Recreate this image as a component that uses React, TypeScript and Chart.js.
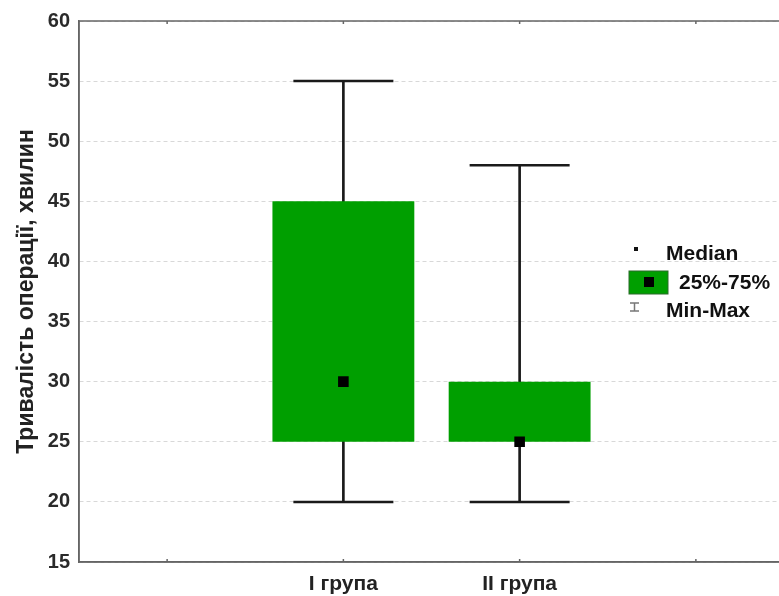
import React, { useEffect, useRef } from "react";
import { Chart, registerables } from "chart.js";

Chart.register(...registerables);

const categories = ["", "I група", "II група", ""];
const minValues = [null, 20, 20, null];
const maxValues = [null, 55, 48, null];
const q1Values = [null, 25, 25, null];
const q3Values = [null, 45, 30, null];
const medianValues = [null, 30, 25, null];
const yTitle = "Тривалість операції, хвилин";
const legendLabels = ["Median", "25%-75%", "Min-Max"];

const GREEN = "#009f00";
const FONT = "'Liberation Sans', Arial, sans-serif";

const framePlugin = {
  id: "frame",
  afterDraw(chart: any) {
    const { ctx, chartArea: a } = chart;
    ctx.save();
    ctx.strokeStyle = "#666";
    ctx.lineWidth = 1.5;
    ctx.strokeRect(a.left, a.top, a.right - a.left, a.bottom - a.top);
    const xs = chart.scales.x;
    for (let i = 0; i < categories.length; i++) {
      const x = xs.getPixelForValue(i);
      ctx.beginPath();
      ctx.moveTo(x, a.top);
      ctx.lineTo(x, a.top + 3);
      ctx.moveTo(x, a.bottom);
      ctx.lineTo(x, a.bottom - 3);
      ctx.stroke();
    }
    // legend
    const lx = a.right - 155;
    const ly = a.top + 228;
    ctx.fillStyle = "#111";
    ctx.font = `bold 21px ${FONT}`;
    ctx.textBaseline = "middle";
    ctx.textAlign = "left";
    ctx.fillRect(lx + 5, ly - 2, 4, 4);
    ctx.fillText(legendLabels[0], lx + 37, ly + 5);
    ctx.fillStyle = GREEN;
    ctx.fillRect(lx, ly + 22, 39, 23);
    ctx.strokeStyle = "#2a6a2a";
    ctx.lineWidth = 1;
    ctx.strokeRect(lx, ly + 22, 39, 23);
    ctx.fillStyle = "#000";
    ctx.fillRect(lx + 15, ly + 28, 10, 10);
    ctx.fillStyle = "#111";
    ctx.fillText(legendLabels[1], lx + 50, ly + 34);
    ctx.strokeStyle = "#777";
    ctx.lineWidth = 1.5;
    ctx.beginPath();
    ctx.moveTo(lx + 1, ly + 54);
    ctx.lineTo(lx + 10, ly + 54);
    ctx.moveTo(lx + 5.5, ly + 54);
    ctx.lineTo(lx + 5.5, ly + 62);
    ctx.moveTo(lx + 1, ly + 62);
    ctx.lineTo(lx + 10, ly + 62);
    ctx.stroke();
    ctx.fillText(legendLabels[2], lx + 37, ly + 62);
    ctx.restore();
  },
};

export default function App() {
  const ref = useRef<HTMLCanvasElement | null>(null);
  useEffect(() => {
    if (!ref.current) return;
    const chart = new Chart(ref.current, {
      type: "bar",
      data: {
        labels: categories,
        datasets: [
          {
            type: "bar",
            label: "whisker",
            data: minValues.map((v, i) => (v === null ? null : [v, maxValues[i] as number])) as any,
            backgroundColor: "#1a1a1a",
            barThickness: 2,
            grouped: false,
            order: 3,
          } as any,
          {
            type: "bar",
            label: "box",
            data: q1Values.map((v, i) => (v === null ? null : [v, q3Values[i] as number])) as any,
            backgroundColor: GREEN,
            categoryPercentage: 1,
            barPercentage: 0.805,
            grouped: false,
            order: 2,
          } as any,
          {
            type: "line",
            label: "max",
            data: maxValues as any,
            showLine: false,
            pointStyle: "line",
            pointRadius: 50,
            pointBorderWidth: 2.5,
            pointBorderColor: "#1a1a1a",
            order: 1,
          } as any,
          {
            type: "line",
            label: "min",
            data: minValues as any,
            showLine: false,
            pointStyle: "line",
            pointRadius: 50,
            pointBorderWidth: 2.5,
            pointBorderColor: "#1a1a1a",
            order: 1,
          } as any,
          {
            type: "line",
            label: "median",
            data: medianValues as any,
            showLine: false,
            pointStyle: "rect",
            pointRadius: 7.5,
            pointBackgroundColor: "#000",
            pointBorderWidth: 0,
            order: 0,
          } as any,
        ],
      },
      options: {
        animation: false,
        responsive: false,
        layout: { autoPadding: false, padding: { top: 21, right: 16, left: 0, bottom: 0 } },
        plugins: { legend: { display: false }, tooltip: { enabled: false } },
        scales: {
          x: {
            offset: true,
            grid: { display: false },
            border: { display: true, color: "#666", width: 1.5 },
            afterFit: (s: any) => {
              s.height = 34;
            },
            ticks: {
              color: "#222",
              font: { family: FONT, size: 21, weight: "bold" },
              padding: 2,
              maxRotation: 0,
              autoSkip: false,
            },
          },
          y: {
            min: 15,
            max: 60,
            afterFit: (s: any) => {
              s.width = 79;
            },
            ticks: {
              stepSize: 5,
              color: "#2a2a2a",
              font: { family: FONT, size: 20, weight: "bold" },
              padding: 9,
            },
            grid: { color: "#d8d8d8", drawTicks: false, tickLength: 0 },
            border: { display: true, color: "#666", width: 1.5, dash: [4, 3] },
            title: {
              display: true,
              text: yTitle,
              color: "#222",
              font: { family: FONT, size: 23, weight: "bold" },
              padding: { top: 13, bottom: 0 },
            },
          },
        },
      },
      plugins: [framePlugin],
    });
    return () => chart.destroy();
  }, []);
  return (
    <div style={{ position: "fixed", left: 0, top: 0, width: 779, height: 596, overflow: "hidden", background: "#fff" }}>
      <canvas ref={ref} width={800} height={596} style={{ display: "block", width: 800, height: 596 }} />
    </div>
  );
}
